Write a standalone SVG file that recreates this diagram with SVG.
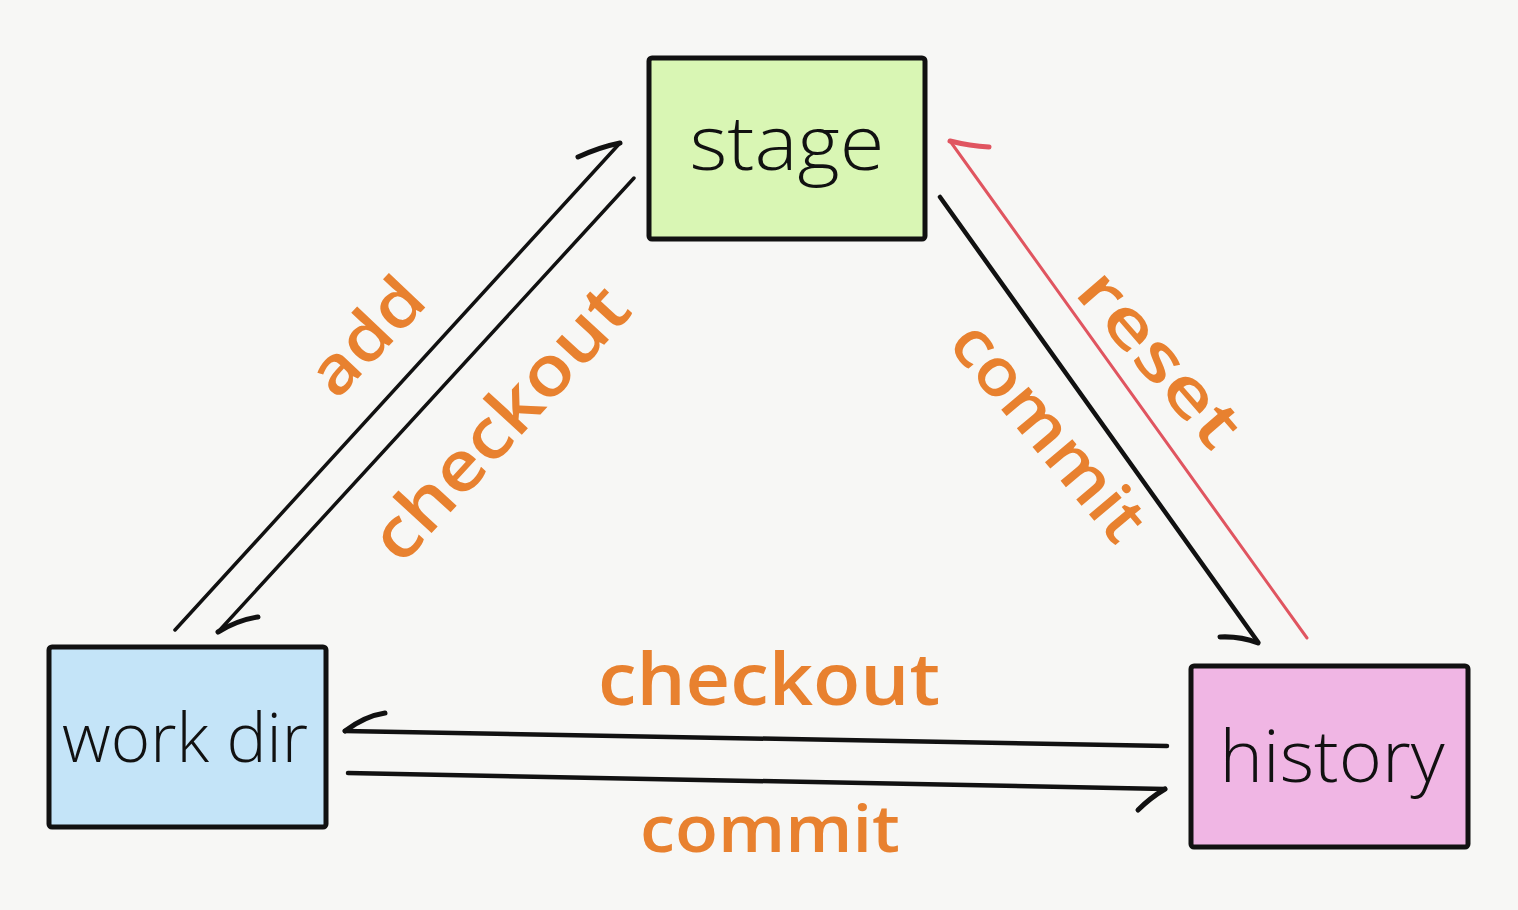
<svg xmlns="http://www.w3.org/2000/svg" width="1518" height="910" viewBox="0 0 1518 910">
<style>
.box{stroke:#111;stroke-width:5;stroke-linejoin:round}
.nt{font-family:"Open Sans","Noto Sans","DejaVu Sans",sans-serif;font-weight:300;fill:#111;text-anchor:middle}
.lbl{font-family:"Open Sans","Noto Sans",sans-serif;font-weight:600;fill:#e8812f;text-anchor:middle}
.ln{fill:none;stroke:#111;stroke-width:3.5;stroke-linecap:round;stroke-linejoin:round}
.bb{fill:none;stroke:#111;stroke-width:5;stroke-linecap:round;stroke-linejoin:round}
.red{fill:none;stroke:#e05560;stroke-width:3;stroke-linecap:round;stroke-linejoin:round}
</style>
<rect width="1518" height="910" fill="#f7f7f5"/>
<g id="stage">
<rect class="box" x="649" y="58" width="276" height="181" rx="3" fill="#d9f6b4"/>
<text class="nt" x="787" y="170" font-size="76" textLength="195" lengthAdjust="spacingAndGlyphs">stage</text>
</g>
<g id="workdir">
<rect class="box" x="49" y="647" width="277" height="180" rx="3" fill="#c4e4f8"/>
<text class="nt" x="185" y="762" font-size="68" textLength="246" lengthAdjust="spacingAndGlyphs">work dir</text>
</g>
<g id="history">
<rect class="box" x="1191" y="666" width="277" height="181" rx="3" fill="#f0b6e4"/>
<text class="nt" x="1332" y="782" font-size="72" textLength="225" lengthAdjust="spacingAndGlyphs">history</text>
</g>
<g id="connectors">
<path class="ln" d="M175,630 L620,143"/>
<path class="bb" d="M578,157 Q600,147 620,143"/>
<path class="ln" d="M634,178 L218,632"/>
<path class="bb" d="M218,632 Q238,620 258,617"/>
<path class="ln" d="M940,197 L1258,642" style="stroke-width:4.5"/>
<path class="bb" d="M1220,637 Q1240,636 1258,643"/>
<path class="red" d="M1307,638 L950,141"/>
<path class="red" d="M950,141 Q970,146 989,147" style="stroke-width:5"/>
<path class="ln" d="M1167,746 L345,731" style="stroke-width:4.5"/>
<path class="bb" d="M345,731 Q365,716 385,713"/>
<path class="ln" d="M348,773 L1165,789" style="stroke-width:4.5"/>
<path class="bb" d="M1165,789 Q1150,798 1138,810"/>
</g>
<g id="labels">
<text class="lbl" font-size="66" transform="translate(367,337) rotate(-46.5)" y="22" textLength="135" lengthAdjust="spacingAndGlyphs">add</text>
<text class="lbl" font-size="70" transform="translate(500,423) rotate(-47.5)" y="24" textLength="345" lengthAdjust="spacingAndGlyphs">checkout</text>
<text class="lbl" font-size="66" transform="translate(1160,358) rotate(49)" y="23" textLength="212" lengthAdjust="spacingAndGlyphs">reset</text>
<text class="lbl" font-size="66" transform="translate(1049,431) rotate(50)" y="23" textLength="264" lengthAdjust="spacingAndGlyphs">commit</text>
<text class="lbl" font-size="72" x="769" y="705" textLength="342" lengthAdjust="spacingAndGlyphs">checkout</text>
<text class="lbl" font-size="66" x="770" y="852" textLength="260" lengthAdjust="spacingAndGlyphs">commit</text>
</g>
</svg>
